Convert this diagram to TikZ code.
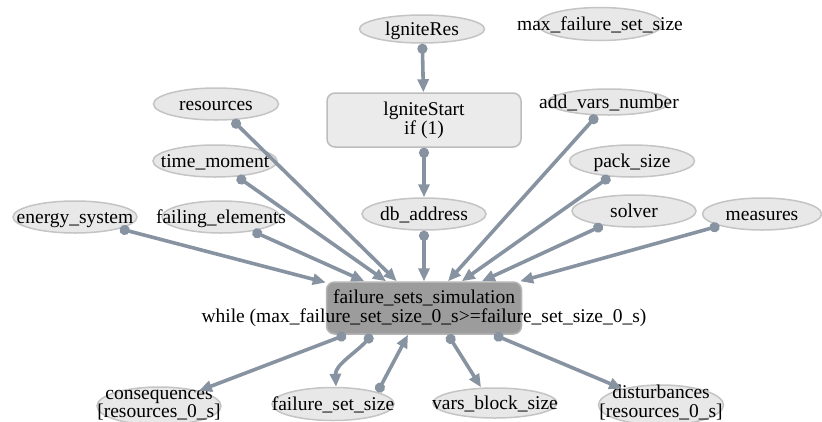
\documentclass[tikz,border=0pt]{standalone}
\usepackage{fontspec}
\setmainfont{Liberation Serif}
\usetikzlibrary{shapes.geometric,arrows.meta}
\definecolor{edgec}{HTML}{8893A2}
\definecolor{ellfill}{HTML}{E8E8E8}
\definecolor{elldraw}{HTML}{C4C4C4}
\definecolor{boxfill}{HTML}{EBEBEB}
\definecolor{boxdraw}{HTML}{BDBDBD}
\definecolor{mainfill}{HTML}{9C9C9C}
\definecolor{maindraw}{HTML}{B5B5B5}
\newcommand\zl[1]{\makebox[0pt]{\raisebox{-0.32em}[0pt][0pt]{#1}}}
\newcommand\zt[4][0pt]{\makebox[0pt]{\raisebox{#2}[0pt][0pt]{\begin{tabular}{@{}c@{}}#3\\[#1]#4\end{tabular}}}}
\tikzset{
  ell/.style={ellipse, draw=elldraw, fill=ellfill, line width=1.5pt, inner sep=0pt,
    minimum width=124pt, minimum height=32pt},
  rbox/.style={rectangle, rounded corners=8pt, draw=boxdraw, fill=boxfill, line width=1.5pt,
    inner sep=0pt, minimum width=194pt, minimum height=54pt},
  mbox/.style={rectangle, rounded corners=8pt, draw=maindraw, fill=mainfill, line width=1.5pt,
    inner sep=0pt, minimum width=195pt, minimum height=52pt},
  ed/.style={draw=edgec, line width=3.6pt, {Circle[length=10pt]}-{Triangle[length=13pt,width=11pt]}},
  every node/.style={font=\rmfamily\fontsize{19.5}{18}\selectfont}
}
\begin{document}
\begin{tikzpicture}[x=1pt,y=-1pt]
\useasboundingbox (0,0) rectangle (822,421);
% top
\node[ell, minimum width=125pt, minimum height=28pt] (ires) at (422,29) {\zl{lgniteRes}};
\node[ell, minimum width=125pt, minimum height=33pt] (maxf) at (600,24) {\zl{max\_failure\_set\_size}};
\node[rbox] (istart) at (424,120) {\zt{-0.3em}{lgniteStart}{if (1)}};
\node[ell, minimum width=122pt, minimum height=26pt] (addv) at (609,102) {\zl{add\_vars\_number}};
\node[ell, minimum width=125pt] (res) at (216,104) {\zl{resources}};
\node[ell] (tm) at (215,161) {\zl{time\_moment}};
\node[ell] (es) at (75,217) {\zl{energy\_system}};
\node[ell, minimum width=118pt] (fe) at (221,217) {\zl{failing\_elements}};
\node[ell] (db) at (424,214) {\zl{db\_address}};
\node[ell, minimum width=125pt] (pack) at (632,161) {\zl{pack\_size}};
\node[ell] (solver) at (634,211) {\zl{solver}};
\node[ell, minimum width=119pt] (meas) at (762,214) {\zl{measures}};
% main
\node[mbox] (fss) at (424,308) {\zt{-0.3em}{failure\_sets\_simulation}{while (max\_failure\_set\_size\_0\_s>=failure\_set\_size\_0\_s)}};
% bottom
\node[ell, minimum height=38pt] (cons) at (159,406) {\zt[-0.5pt]{-0.2em}{consequences}{{[}resources\_0\_s{]}}};
\node[ell, minimum width=122pt, minimum height=33pt] (fsz) at (333,404) {\zl{failure\_set\_size}};
\node[ell, minimum height=30pt] (vbs) at (495,403) {\zl{vars\_block\_size}};
\node[ell, minimum width=125pt, minimum height=40pt] (dist) at (661,405) {\zt[-0.5pt]{-0.2em}{disturbances}{{[}resources\_0\_s{]}}};
% edges
\draw[ed] (ires) -- (istart);
\draw[ed] (istart) -- (db);
\draw[ed] (db) -- (fss);
\draw[ed] (res) -- (fss);
\draw[ed] (tm) -- (fss);
\draw[ed] (es) -- (fss);
\draw[ed] (fe) -- (fss);
\draw[ed] (addv) -- (fss);
\draw[ed] (pack) -- (fss);
\draw[ed] (solver) -- (fss);
\draw[ed] (meas) -- (fss);
\draw[ed] ([xshift=-78pt]fss.south) -- (cons);
\draw[ed] ([xshift=-52pt]fss.south) .. controls ([xshift=-68pt,yshift=-18pt]fss.south) and ([xshift=2pt,yshift=22pt]fsz.north) .. ([xshift=3pt]fsz.north);
\draw[ed] (fsz.15) -- ([xshift=-16pt]fss.south);
\draw[ed] ([xshift=24pt]fss.south) -- ([xshift=-14pt]vbs.north);
\draw[ed] ([xshift=70pt]fss.south) -- (dist);
\end{tikzpicture}
\end{document}
